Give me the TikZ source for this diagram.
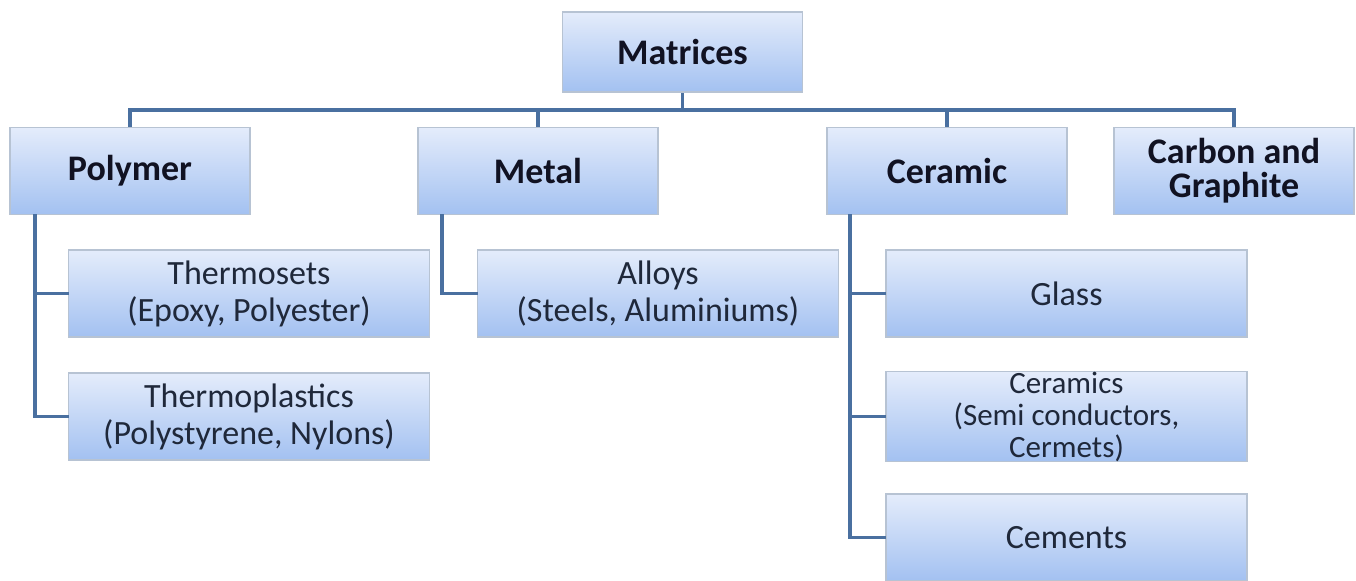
\documentclass[tikz,border=0pt]{standalone}
\usepackage{fontspec}
\setmainfont{Carlito}
\usetikzlibrary{calc}
\definecolor{TreeTop}{RGB}{228,236,251}
\definecolor{TreeBottom}{RGB}{163,193,241}
\definecolor{TreeFrame}{RGB}{183,195,211}
\definecolor{TreeLink}{RGB}{74,112,160}
\definecolor{TreeInk}{RGB}{17,18,34}
\definecolor{TreeText}{RGB}{31,40,58}
\tikzset{
    tree/diagram/.style={
        line cap=butt,
        line join=miter,
        every node/.style={inner sep=2pt, outer sep=0pt}
    },
    tree/box/.style={
        rectangle, align=center,
        draw=TreeFrame, line width=0.6pt,
        top color=TreeTop, bottom color=TreeBottom
    },
    tree/head/.style={
        tree/box, minimum width=120pt, minimum height=43.5pt,
        text=TreeInk, font=\bfseries\fontsize{18}{17}\selectfont
    },
    tree/item/.style={
        tree/box, minimum width=180.5pt, minimum height=43.5pt,
        text=TreeText, font=\fontsize{17}{18.5}\selectfont
    },
    tree/link/.style={draw=TreeLink, line width=1.6pt}
}
\begin{document}
\begin{tikzpicture}[tree/diagram, x=0.5pt, y=-0.5pt]
    \useasboundingbox (0,0) rectangle (1356,581);

    % connectors first, boxes on top
    \coordinate (bus) at (682.5,110);
    \coordinate (matfoot) at (682.5,92);
    \draw[tree/link] (matfoot) -- (bus);
    \foreach \k/\x in {poly/130,metal/538,ceram/947,carbon/1234}
        \draw[tree/link] (bus) -| (\x,128);

    \node[tree/head, minimum height=40pt] (mat) at (682.5,52) {Matrices};

    \node[tree/head] (poly)   at (130,171)  {Polymer};
    \node[tree/head] (metal)  at (538,171)  {Metal};
    \node[tree/head] (ceram)  at (947,171)  {Ceramic};
    \node[tree/head] (carbon) at (1234,171) {Carbon and\\Graphite};

    \node[tree/item] (thset)  at (249,293.5)  {Thermosets\\(Epoxy, Polyester)};
    \node[tree/item] (thplas) at (249,416.5)  {Thermoplastics\\(Polystyrene, Nylons)};
    \node[tree/item] (alloy)  at (658,293.5)  {Alloys\\(Steels, Aluminiums)};
    \node[tree/item] (glass)  at (1066.5,293.5) {Glass};
    \node[tree/item, inner sep=0pt, font=\fontsize{15.5}{16}\selectfont]
        (cerms) at (1066.5,416.5)
        {Ceramics\\(Semi conductors,\\Cermets)};
    \node[tree/item] (cement) at (1066.5,537.5) {Cements};

    \draw[tree/link] ([xshift=12.5pt]poly.south west) |- (thset.west);
    \draw[tree/link] ([xshift=12.5pt]poly.south west) |- (thplas.west);
    \draw[tree/link] ([xshift=12pt]metal.south west) |- (alloy.west);
    \foreach \k in {glass,cerms,cement}
        \draw[tree/link] ([xshift=11.5pt]ceram.south west) |- (\k.west);
\end{tikzpicture}
\end{document}
